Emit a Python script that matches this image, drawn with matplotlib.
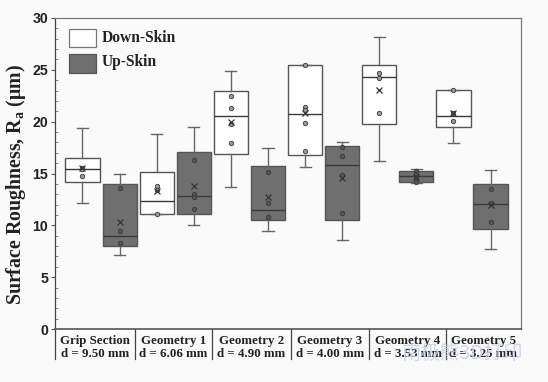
import matplotlib
matplotlib.use("Agg")
import matplotlib.pyplot as plt
from matplotlib.patches import Rectangle
from matplotlib.lines import Line2D

# ---------------- data ----------------
groups = ["Grip Section", "Geometry 1", "Geometry 2", "Geometry 3", "Geometry 4", "Geometry 5"]
diameters = ["d = 9.50 mm", "d = 6.06 mm", "d = 4.90 mm", "d = 4.00 mm", "d = 3.53 mm", "d = 3.25 mm"]
series = ["Down-Skin", "Up-Skin"]

# order: Grip-D, Grip-U, G1-D, G1-U, ... G5-D, G5-U
whislo = [12.2, 7.1, 11.1, 10.0, 13.7, 9.5, 15.6, 8.6, 16.2, 14.1, 17.9, 7.7]
q1     = [14.15, 8.0, 11.1, 11.1, 16.85, 10.5, 16.75, 10.5, 19.75, 14.15, 19.5, 9.6]
med    = [15.45, 9.0, 12.35, 12.85, 20.5, 11.5, 20.7, 15.8, 24.3, 14.75, 20.55, 12.1]
q3     = [16.45, 13.95, 15.1, 17.1, 23.0, 15.7, 25.5, 17.7, 25.5, 15.25, 23.05, 13.95]
whishi = [19.35, 14.95, 18.8, 19.45, 24.85, 17.5, 25.5, 18.05, 28.2, 15.4, 23.05, 15.3]
means  = [15.5, 10.3, 13.3, 13.8, 19.95, 12.7, 20.85, 14.55, 23.05, 14.7, 20.85, 11.95]
points = [
    [15.5, 15.4, 14.75],
    [13.65, 9.5, 8.3],
    [13.8, 13.45, 11.1],
    [16.3, 13.0, 12.75, 11.55],
    [22.45, 21.3, 19.8, 17.95],
    [15.15, 12.15, 10.85],
    [25.5, 21.45, 21.1, 19.9, 17.2],
    [17.6, 16.7, 14.85, 11.2],
    [24.65, 24.2, 20.85],
    [15.2, 14.95, 14.7, 14.2],
    [23.05, 20.8, 20.05],
    [13.5, 12.2, 10.3],
]

yticks = [0, 5, 10, 15, 20, 25, 30]

# ---------------- styling ----------------
bg = "#fafafa"
white_fill = "#ffffff"
dark_fill = "#6f6f6f"
edge = "#555555"

fig = plt.figure(figsize=(5.48, 3.82), dpi=100, facecolor=bg)
ax = fig.add_axes([0.1004, 0.1387, 0.8503, 0.8142])
ax.set_facecolor(bg)

positions = list(range(1, len(med) + 1))
stats = []
for i in range(len(med)):
    stats.append(dict(whislo=whislo[i], q1=q1[i], med=med[i], q3=q3[i],
                      whishi=whishi[i], fliers=[]))

bp = ax.bxp(stats, positions=positions, widths=0.92, patch_artist=True,
            showfliers=False, capwidths=0.3,
            boxprops=dict(edgecolor=edge, linewidth=1.0),
            medianprops=dict(color="#3a3a3a", linewidth=1.0),
            whiskerprops=dict(color="#666666", linewidth=1.0),
            capprops=dict(color="#666666", linewidth=1.0))
for i, b in enumerate(bp["boxes"]):
    b.set_facecolor(white_fill if i % 2 == 0 else dark_fill)

# data points and means
for i, pts in enumerate(points):
    fc = "#9a9a9a" if i % 2 == 0 else "#555555"
    ax.plot([positions[i]] * len(pts), pts, linestyle="none", marker="o",
            markersize=3.2, markerfacecolor=fc, markeredgecolor="#3a3a3a",
            markeredgewidth=0.6, zorder=4)
    ax.plot([positions[i]], [means[i]], linestyle="none", marker="x",
            markersize=4.5, color="#333333", markeredgewidth=0.9, zorder=5)

ax.set_xlim(0.26, 12.82)
ax.set_ylim(0, 30)
ax.set_yticks(yticks)
ax.set_yticks(range(0, 31), minor=True)
ax.set_yticklabels([str(t) for t in yticks], fontfamily="Liberation Sans",
                   fontweight="bold", fontsize=10.2, color="#222222")
ax.tick_params(axis="y", which="major", direction="out", length=3, width=0.8,
               color="#555555", pad=2)
ax.tick_params(axis="y", which="minor", direction="in", length=2, width=0.6,
               color="#777777")
ax.set_xticks([])

for s in ax.spines.values():
    s.set_color("#7a7a7a")
    s.set_linewidth(0.9)
ax.spines["left"].set_color("#444444")
ax.spines["bottom"].set_color("#555555")
ax.spines["bottom"].set_linewidth(1.2)

ax.set_ylabel("Surface Roughness, R$_\\mathregular{a}$ (\u03bcm)",
              fontfamily="Liberation Serif", fontweight="bold", fontsize=14.3,
              color="#222222")
ax.yaxis.set_label_coords(-0.058, 0.463)

# category separators and labels
seps = [0.0, 0.172, 0.337, 0.506, 0.674, 0.839, 1.0]
for s in seps[:-1]:
    ax.add_line(Line2D([s, s], [0, -0.096], transform=ax.transAxes,
                       color="#444444", linewidth=0.9, clip_on=False))
for i, (g, d) in enumerate(zip(groups, diameters)):
    cx = (seps[i] + seps[i + 1]) / 2
    ax.text(cx, -0.037, g, transform=ax.transAxes, ha="center", va="center",
            fontfamily="Liberation Serif", fontweight="bold", fontsize=9.3,
            color="#222222")
    ax.text(cx, -0.080, d, transform=ax.transAxes, ha="center", va="center",
            fontfamily="Liberation Serif", fontweight="bold", fontsize=9.3,
            color="#222222")

# legend (manual)
ax.add_patch(Rectangle((0.0294, 0.9068), 0.0586, 0.0588, transform=ax.transAxes,
                       facecolor=white_fill, edgecolor="#777777", linewidth=0.9))
ax.add_patch(Rectangle((0.0294, 0.8241), 0.0586, 0.0601, transform=ax.transAxes,
                       facecolor=dark_fill, edgecolor="#555555", linewidth=0.9))
ax.text(0.1002, 0.9367, series[0], transform=ax.transAxes, ha="left", va="center",
        fontfamily="Liberation Serif", fontweight="bold", fontsize=11.2, color="#222222")
ax.text(0.1002, 0.8576, series[1], transform=ax.transAxes, ha="left", va="center",
        fontfamily="Liberation Serif", fontweight="bold", fontsize=11.2, color="#222222")

# watermark
fig.text(0.845, 0.075, "南极熊3D打印", ha="center", va="center",
         fontfamily=["Noto Sans CJK SC", "DejaVu Sans"], fontsize=14,
         color="#c9d1e6", alpha=0.85)

fig.savefig("out.png", dpi=100, facecolor=bg)
